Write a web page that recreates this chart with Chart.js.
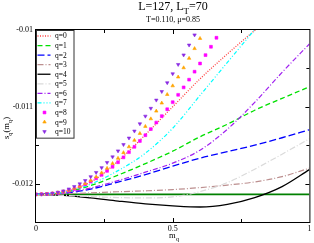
<!DOCTYPE html>
<html>
<head>
<meta charset="utf-8">
<script src="https://cdn.jsdelivr.net/npm/chart.js@4.4.1/dist/chart.umd.min.js"></script>
<style>
  html, body { margin: 0; padding: 0; background: #fff; }
</style>
</head>
<body>
<canvas id="chart" width="314" height="243"></canvas>
<script>
// m_q grid used for the line curves
const mCoarse = [0, 0.1, 0.2, 0.3, 0.4, 0.5, 0.6, 0.7, 0.8, 0.9, 1.0];
// m_q grid used for the marker curves
const mFine = [0, 0.02, 0.04, 0.06, 0.08, 0.10, 0.12, 0.14, 0.16, 0.18, 0.20, 0.22,
  0.24, 0.26, 0.28, 0.30, 0.32, 0.34, 0.36, 0.38, 0.40, 0.42, 0.44, 0.46, 0.48,
  0.50, 0.52, 0.54, 0.56, 0.58, 0.60, 0.62, 0.64, 0.66];

const q0 = [-0.01214, -0.012105, -0.011981, -0.011708, -0.011364, -0.011, -0.010636, -0.010312, -0.010006, -0.009721];
const q1 = [-0.01214, -0.012117, -0.012026, -0.01189, -0.01174, -0.011578, -0.01139, -0.011227, -0.011045, -0.01089, -0.01074];
const q2 = [-0.01214, -0.012127, -0.012071, -0.011981, -0.011883, -0.011773, -0.011669, -0.011584, -0.0115, -0.011403, -0.011299];
const q3 = [-0.01214, -0.012134, -0.012121, -0.012106, -0.012094, -0.012078, -0.012052, -0.012019, -0.011978, -0.011909, -0.011799];
const q4 = [-0.01214, -0.012153, -0.012186, -0.012227, -0.012264, -0.01229, -0.012305, -0.01227, -0.012182, -0.012039, -0.011818];
const q5 = [-0.01214, -0.012153, -0.012169, -0.012182, -0.012186, -0.012173, -0.012104, -0.011987, -0.011812, -0.011617, -0.011416];
const q6 = [-0.01214, -0.012123, -0.012058, -0.011961, -0.011851, -0.011734, -0.011565, -0.011292, -0.010942, -0.010552, -0.010182];
const q7 = [-0.01214, -0.012114, -0.012007, -0.011831, -0.011604, -0.011279, -0.010851, -0.010422, -0.009994, -0.009565];
const q8 = [-0.01214, -0.012138, -0.012135, -0.01213, -0.01212, -0.012107, -0.01209, -0.012071,
  -0.01204, -0.012009, -0.011973, -0.011931, -0.011886, -0.011835, -0.011781, -0.011722,
  -0.011658, -0.011591, -0.011521, -0.011445, -0.01137, -0.01129, -0.011205, -0.011121,
  -0.011032, -0.01094, -0.010844, -0.010747, -0.010647, -0.010543, -0.010436, -0.010327,
  -0.010218, -0.010101];
const q9 = [-0.01214, -0.012138, -0.012135, -0.012129, -0.012118, -0.012104, -0.012086, -0.012061,
  -0.012033, -0.011999, -0.01196, -0.011913, -0.01186, -0.011801, -0.011738, -0.01167,
  -0.011597, -0.011521, -0.011436, -0.011347, -0.011255, -0.011157, -0.011056, -0.010951,
  -0.01084, -0.010727, -0.010612, -0.010492, -0.010369, -0.010242, -0.01011];
const q10 = [-0.01214, -0.012138, -0.012134, -0.012126, -0.012113, -0.012095, -0.01207, -0.012039,
  -0.012003, -0.01196, -0.01191, -0.011855, -0.011792, -0.011725, -0.011652, -0.011574,
  -0.011492, -0.011407, -0.011316, -0.011221, -0.011122, -0.01102, -0.010913, -0.010801,
  -0.010687, -0.01057, -0.010449, -0.010325, -0.010196, -0.010064];
const baseLine = [-0.01214, -0.01214];
const baseM = [0, 1];

const xTicks = [0, 0.25, 0.5, 0.75, 1];
const xTickLabels = ['0', '', '0.5', '', '1'];
const yTicks = [-0.01, -0.0105, -0.011, -0.0115, -0.012, -0.0125];
const yTickLabels = ['-0.01', '', '-0.011', '', '-0.012', ''];

const serif = '"Liberation Serif", "DejaVu Serif", serif';

function pts(xs, ys) {
  return ys.map((y, i) => ({ x: xs[i], y: y }));
}

function lineSet(label, xs, ys, color, dash, width) {
  return {
    label: label, data: pts(xs, ys), borderColor: color, backgroundColor: color,
    borderDash: dash, borderWidth: width || 1.2, pointRadius: 0,
    cubicInterpolationMode: 'monotone', fill: false
  };
}

function markSet(label, xs, ys, color, style, radius, rotation) {
  return {
    label: label, data: pts(xs, ys), borderColor: color, backgroundColor: color,
    showLine: false, pointStyle: style, pointRadius: radius, pointBorderWidth: 0.6,
    pointRotation: rotation || 0
  };
}

const datasets = [
  markSet('q=10', mFine, q10, '#8a2be2', 'triangle', 2, 180),
  markSet('q=9', mFine, q9, '#ffa500', 'triangle', 2, 0),
  markSet('q=8', mFine, q8, '#ff00ff', 'rect', 2, 0),
  lineSet('q=7', mCoarse, q7, '#00ffff', [4, 2, 1, 2, 1, 2]),
  lineSet('q=6', mCoarse, q6, '#a020f0', [5, 2, 1, 2]),
  lineSet('q=5', mCoarse, q5, '#dadada', [6, 2, 1, 2]),
  lineSet('q=4', mCoarse, q4, '#000000', [], 1.3),
  lineSet('q=3', mCoarse, q3, '#bc8f8f', [6, 2, 1, 2]),
  lineSet('q=2', mCoarse, q2, '#0000ff', [7, 3], 1.3),
  lineSet('q=1', mCoarse, q1, '#00e000', [5, 3], 1.3),
  lineSet('q=0', mCoarse, q0, '#ff4040', [1, 1.5], 1.3),
  lineSet('', baseM, baseLine, '#008000', [], 1.6)
];

function drawRich(ctx, parts, x, y, align) {
  // parts: [text, fontSize, baselineShift]
  let total = 0;
  parts.forEach(p => { ctx.font = p[1] + 'px ' + serif; p.w = ctx.measureText(p[0]).width; total += p.w; });
  let cx = align === 'center' ? x - total / 2 : x;
  ctx.textAlign = 'left';
  ctx.textBaseline = 'alphabetic';
  parts.forEach(p => {
    ctx.font = p[1] + 'px ' + serif;
    ctx.fillText(p[0], cx, y + p[2]);
    cx += p.w;
  });
}

const decor = {
  id: 'decor',
  afterDraw(chart) {
    const ctx = chart.ctx;
    const a = chart.chartArea;
    const xs = chart.scales.x, ys = chart.scales.y;
    ctx.save();
    ctx.strokeStyle = '#000';
    ctx.lineWidth = 1;
    ctx.setLineDash([]);
    ctx.strokeRect(a.left - 0.5, a.top - 0.5, a.right - a.left + 1, a.bottom - a.top + 1);

    // inner tick marks
    ctx.beginPath();
    xTicks.forEach((v, i) => {
      if (i === 0 || i === xTicks.length - 1) return;
      const px = Math.round(xs.getPixelForValue(v)) + 0.5;
      const len = xTickLabels[i] ? 4 : 3;
      ctx.moveTo(px, a.bottom); ctx.lineTo(px, a.bottom - len);
      ctx.moveTo(px, a.top); ctx.lineTo(px, a.top + len);
    });
    yTicks.forEach((v, i) => {
      if (i === 0 || i === yTicks.length - 1) return;
      const py = Math.round(ys.getPixelForValue(v)) + 0.5;
      const len = yTickLabels[i] ? 4 : 3;
      ctx.moveTo(a.left, py); ctx.lineTo(a.left + len, py);
      ctx.moveTo(a.right, py); ctx.lineTo(a.right - len, py);
    });
    ctx.stroke();

    // legend box inside the plot
    const items = chart.data.datasets.filter(d => d.label).slice().reverse();
    const bx = a.left, by = a.top, bw = 37.5, rowH = 9.56;
    const bh = items.length * rowH + 2.5;
    ctx.fillStyle = '#fff';
    ctx.fillRect(bx, by, bw, bh);
    ctx.strokeStyle = '#333';
    ctx.strokeRect(bx + 0.5, by + 0.5, bw, bh);
    items.forEach((d, i) => {
      const yy = by + 6 + i * rowH;
      if (d.showLine === false) {
        ctx.fillStyle = d.backgroundColor;
        ctx.strokeStyle = d.borderColor;
        ctx.lineWidth = d.pointBorderWidth;
        Chart.helpers.drawPoint(ctx, {
          pointStyle: d.pointStyle, radius: d.pointRadius, rotation: d.pointRotation,
          borderWidth: d.pointBorderWidth
        }, bx + 8.5, yy);
        ctx.lineWidth = 1;
      } else {
        ctx.strokeStyle = d.borderColor;
        ctx.lineWidth = d.borderWidth;
        ctx.setLineDash(d.borderDash || []);
        ctx.beginPath();
        ctx.moveTo(bx + 1.5, yy);
        ctx.lineTo(bx + 14.5, yy);
        ctx.stroke();
        ctx.setLineDash([]);
        ctx.lineWidth = 1;
      }
      ctx.fillStyle = '#000';
      ctx.font = '7.5px ' + serif;
      ctx.textAlign = 'left';
      ctx.textBaseline = 'middle';
      ctx.fillText(d.label, bx + 19, yy + 0.5);
    });

    // titles and axis labels
    ctx.fillStyle = '#000';
    drawRich(ctx, [['L=127, L', 12, 0], ['T', 9, 3.5], ['=70', 12, 0]], 173, 10, 'center');
    drawRich(ctx, [['T=0.110, \u03bc=0.85', 8, 0]], 173, 22, 'center');
    drawRich(ctx, [['m', 8.5, 0], ['q', 6.5, 2.5]], 174, 238, 'center');
    ctx.save();
    ctx.translate(9, 128);
    ctx.rotate(-Math.PI / 2);
    drawRich(ctx, [['s', 8.5, 0], ['q', 6.5, 2.5], ['(m', 8.5, 0], ['q', 6.5, 2.5], [')', 8.5, 0]], 0, 0, 'center');
    ctx.restore();
    ctx.restore();
  }
};

new Chart(document.getElementById('chart').getContext('2d'), {
  type: 'line',
  data: { datasets: datasets },
  options: {
    responsive: false,
    animation: false,
    devicePixelRatio: 1,
    layout: { padding: { top: 30, right: 3, left: 0, bottom: 0 } },
    plugins: { legend: { display: false }, title: { display: false }, tooltip: { enabled: false } },
    scales: {
      x: {
        type: 'linear', min: 0, max: 1,
        grid: { display: false, drawTicks: false }, border: { display: false },
        afterBuildTicks: s => { s.ticks = xTicks.map(v => ({ value: v })); },
        afterFit: s => { s.height = 21; },
        ticks: {
          padding: 2, maxRotation: 0, autoSkip: false, color: '#000',
          font: { family: serif, size: 8 },
          callback: (v, i) => xTickLabels[i]
        }
      },
      y: {
        type: 'linear', min: -0.0125, max: -0.01,
        grid: { display: false, drawTicks: false }, border: { display: false },
        afterBuildTicks: s => { s.ticks = yTicks.map(v => ({ value: v })); },
        afterFit: s => { s.width = 36; },
        ticks: {
          padding: 3, autoSkip: false, color: '#000',
          font: { family: serif, size: 8 },
          callback: (v, i) => yTickLabels[i]
        }
      }
    }
  },
  plugins: [decor]
});
</script>
</body>
</html>
